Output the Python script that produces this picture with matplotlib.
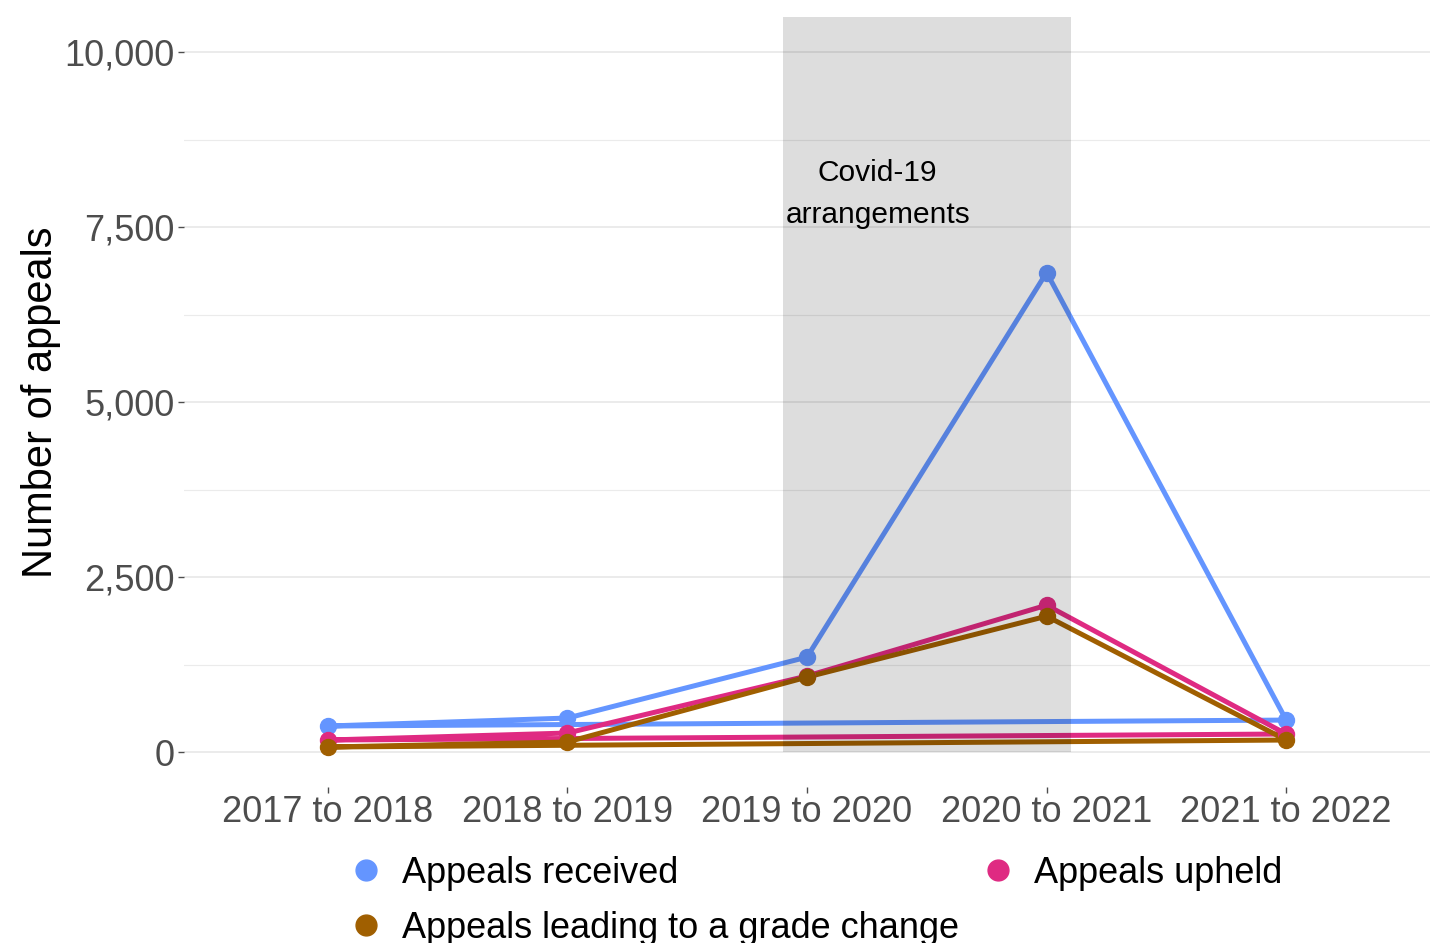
import matplotlib
matplotlib.use("Agg")
import matplotlib.pyplot as plt
from matplotlib.lines import Line2D
import numpy as np

plt.rcParams['font.family'] = ['Liberation Sans', 'DejaVu Sans']

years = ["2017 to 2018", "2018 to 2019", "2019 to 2020", "2020 to 2021", "2021 to 2022"]
received = [371, 485, 1355, 6850, 456]
upheld = [171, 271, 1085, 2097, 257]
grade_change = [71, 143, 1070, 1940, 171]
series_names = ["Appeals received", "Appeals upheld", "Appeals leading to a grade change"]
colors = ["#6495FF", "#DF2A82", "#A05F00"]
y_ticks = [0, 2500, 5000, 7500, 10000]
covid_span = ("2019 to 2020", "2020 to 2021")
covid_label = "Covid-19\narrangements"

fig = plt.figure(figsize=(14.38, 9.43), dpi=100)
ax = fig.add_axes([184/1438, 1-787/943, (1430-184)/1438, (787-17)/943])

x = np.arange(len(years))
handles = []
for vals, name, col in zip([received, upheld, grade_change], series_names, colors):
    xs = np.append(x, x[0])
    ys = np.append(vals, vals[0])
    ax.plot(xs, ys, color=col, lw=3.6, solid_joinstyle='round', solid_capstyle='round', zorder=3)
    ax.plot(x, vals, 'o', color=col, ms=11.5, zorder=4)
    handles.append(Line2D([], [], marker='o', ls='none', color=col, ms=15))

i0 = years.index(covid_span[0]); i1 = years.index(covid_span[1])
ax.axvspan(i0 - 0.1, i1 + 0.1, ymin=500/11000, ymax=1, color='black', alpha=0.133, lw=0, zorder=5)
ax.text(i0 + 0.295, 7975, covid_label, ha='center', va='center', fontsize=21.5,
        color='black', linespacing=1.64, zorder=6)

ax.set_xlim(-0.6, len(years) - 0.4)
ax.set_ylim(-500, 10500)
ax.set_xticks(x)
ax.set_xticklabels(years)
ax.set_yticks(y_ticks)
ax.set_yticklabels([f"{v:,}" for v in y_ticks])
ax.set_yticks([1250, 3750, 6250, 8750], minor=True)
ax.yaxis.grid(True, which='major', color='#EBEBEB', lw=1.4)
ax.yaxis.grid(True, which='minor', color='#EBEBEB', lw=0.8)
ax.xaxis.grid(False)
ax.set_axisbelow(True)
for s in ax.spines.values():
    s.set_visible(False)
ax.tick_params(axis='both', which='major', labelsize=26, labelcolor='#4D4D4D',
               color='#4D4D4D', length=4, width=1, pad=3)
ax.tick_params(axis='x', which='major', pad=1.5)
ax.tick_params(axis='y', which='minor', length=0)
ax.set_ylabel("Number of appeals", fontsize=30, color='black', labelpad=2.5)

order = [0, 2, 1]
fig.legend([handles[i] for i in order], [series_names[i] for i in order],
           loc='center', bbox_to_anchor=(0.567, 0.0448), ncol=2, frameon=False,
           fontsize=26, handlelength=1.0, handletextpad=0.49, columnspacing=0.585,
           labelspacing=0.55, borderpad=0)

fig.savefig("out.png", dpi=100)
